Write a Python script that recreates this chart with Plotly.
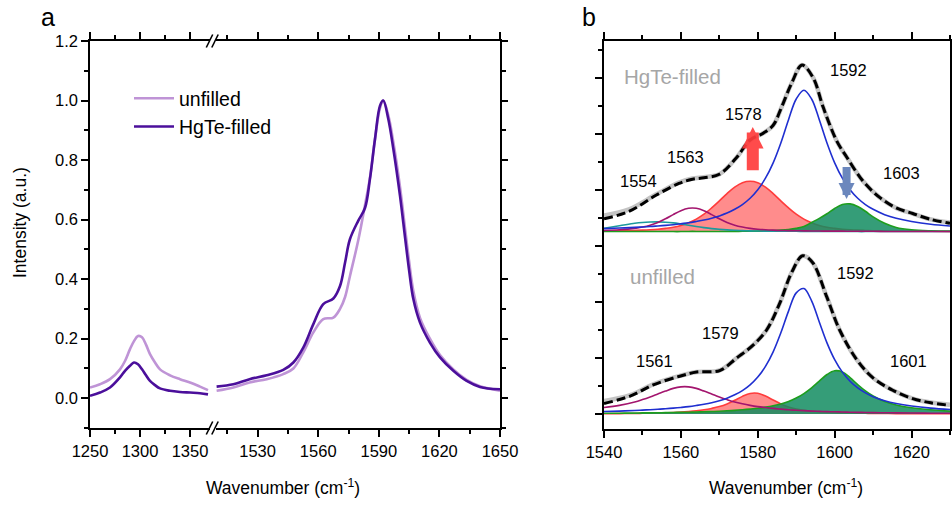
import plotly.graph_objects as go

FONT = "Liberation Sans, Arial, sans-serif"
W, H = 952, 505

# ---------------- panel a: Raman G band, normalised ----------------
wn_low = [1250, 1260, 1270, 1280, 1285, 1290, 1294, 1298, 1302, 1306, 1310, 1315,
          1320, 1330, 1340, 1350, 1360, 1368]
unfilled_low = [0.036, 0.047, 0.064, 0.097, 0.125, 0.165, 0.192, 0.209, 0.205, 0.180,
                0.148, 0.120, 0.097, 0.077, 0.064, 0.053, 0.039, 0.027]
filled_low = [0.008, 0.019, 0.036, 0.070, 0.092, 0.109, 0.120, 0.114, 0.097, 0.077,
              0.058, 0.044, 0.033, 0.025, 0.021, 0.019, 0.017, 0.013]

wn_high = [1509.7, 1518, 1526, 1534.5, 1542.7, 1547.7, 1552.6, 1557.6, 1562.5, 1567.5,
           1570.8, 1573.3, 1575.7, 1579.8, 1583.2, 1585.6, 1588.1, 1590.6, 1592.2,
           1594.7, 1597.2, 1600.5, 1603, 1605, 1607.1, 1610.4, 1615.3, 1620.3, 1626.9,
           1633.5, 1640.1, 1650]
unfilled_high = [0.025, 0.036, 0.053, 0.064, 0.081, 0.100, 0.154, 0.221, 0.266, 0.271,
                 0.300, 0.340, 0.410, 0.530, 0.650, 0.740, 0.870, 0.975, 1.000, 0.950,
                 0.860, 0.710, 0.570, 0.460, 0.360, 0.270, 0.200, 0.145, 0.097, 0.062,
                 0.040, 0.025]
filled_high = [0.039, 0.047, 0.064, 0.077, 0.095, 0.120, 0.170, 0.249, 0.316, 0.335,
               0.377, 0.456, 0.534, 0.596, 0.640, 0.736, 0.870, 0.983, 1.000, 0.938,
               0.837, 0.680, 0.540, 0.430, 0.333, 0.254, 0.187, 0.137, 0.092, 0.058,
               0.038, 0.030]

x_ticks_low = [1250, 1300, 1350]
x_ticks_high = [1530, 1560, 1590, 1620, 1650]
y_ticks_a = [0.0, 0.2, 0.4, 0.6, 0.8, 1.0, 1.2]

# ---------------- panel b: peak fits ----------------
wn_fit = [1540, 1544, 1548, 1550, 1552, 1554, 1556, 1558, 1560, 1562, 1564, 1566, 1568,
          1570, 1572, 1574, 1576, 1578, 1580, 1582, 1584, 1586, 1588, 1590, 1592, 1594,
          1596, 1598, 1600, 1602, 1604, 1606, 1608, 1610, 1613, 1616, 1620, 1625, 1630]

# HgTe-filled components
hg_1592 = [0.022, 0.026, 0.031, 0.034, 0.037, 0.041, 0.045, 0.050, 0.057, 0.064, 0.073,
           0.083, 0.096, 0.113, 0.133, 0.160, 0.194, 0.239, 0.300, 0.382, 0.492, 0.634,
           0.800, 0.948, 1.010, 0.948, 0.800, 0.634, 0.492, 0.382, 0.300, 0.239, 0.194,
           0.160, 0.122, 0.096, 0.073, 0.053, 0.041]
hg_1578 = [0.004, 0.006, 0.009, 0.011, 0.014, 0.018, 0.024, 0.032, 0.045, 0.064, 0.090,
           0.125, 0.170, 0.220, 0.272, 0.318, 0.350, 0.360, 0.350, 0.318, 0.272, 0.220,
           0.170, 0.125, 0.090, 0.064, 0.045, 0.032, 0.024, 0.018, 0.014, 0.011, 0.009,
           0.007, 0.006, 0.004, 0.003, 0.003, 0.002]
hg_1563 = [0.009, 0.014, 0.024, 0.033, 0.046, 0.066, 0.092, 0.122, 0.150, 0.167, 0.167,
           0.150, 0.122, 0.092, 0.066, 0.046, 0.033, 0.024, 0.018, 0.014, 0.011, 0.009,
           0.008, 0.007, 0.006, 0.005, 0.005, 0.004, 0.004, 0.004, 0.003, 0.003, 0.003,
           0.003, 0.002, 0.002, 0.002, 0.002, 0.001]
hg_1554 = [0.025, 0.042, 0.060, 0.066, 0.069, 0.070, 0.068, 0.063, 0.055, 0.046, 0.037,
           0.029, 0.022, 0.017, 0.013, 0.010, 0.008, 0.006, 0.005, 0.004, 0.004, 0.003,
           0.003, 0.003, 0.002, 0.002, 0.002, 0.002, 0.002, 0.002, 0.002, 0.001, 0.001,
           0.001, 0.001, 0.001, 0.001, 0.001, 0.001]
hg_1603 = [0.001, 0.001, 0.001, 0.001, 0.001, 0.001, 0.001, 0.001, 0.001, 0.002, 0.002,
           0.002, 0.002, 0.002, 0.002, 0.002, 0.003, 0.003, 0.004, 0.006, 0.008, 0.011,
           0.016, 0.024, 0.037, 0.066, 0.095, 0.128, 0.166, 0.194, 0.199, 0.180, 0.146,
           0.106, 0.060, 0.030, 0.013, 0.006, 0.004]

# unfilled components
un_1592 = [0.018, 0.021, 0.025, 0.028, 0.031, 0.034, 0.038, 0.042, 0.047, 0.053, 0.061,
           0.070, 0.081, 0.095, 0.113, 0.137, 0.167, 0.208, 0.264, 0.340, 0.444, 0.580,
           0.735, 0.865, 0.896, 0.808, 0.657, 0.508, 0.388, 0.299, 0.234, 0.186, 0.151,
           0.124, 0.095, 0.075, 0.057, 0.042, 0.032]
un_1579 = [0.002, 0.003, 0.004, 0.005, 0.006, 0.007, 0.009, 0.011, 0.014, 0.018, 0.023,
           0.030, 0.040, 0.053, 0.072, 0.098, 0.126, 0.147, 0.148, 0.128, 0.100, 0.072,
           0.050, 0.036, 0.027, 0.020, 0.016, 0.013, 0.010, 0.008, 0.007, 0.006, 0.005,
           0.004, 0.004, 0.003, 0.003, 0.002, 0.002]
un_1561 = [0.046, 0.062, 0.086, 0.103, 0.122, 0.143, 0.164, 0.183, 0.194, 0.194, 0.183,
           0.164, 0.143, 0.122, 0.103, 0.086, 0.073, 0.062, 0.053, 0.046, 0.040, 0.035,
           0.030, 0.027, 0.024, 0.021, 0.019, 0.017, 0.016, 0.014, 0.013, 0.012, 0.011,
           0.010, 0.009, 0.008, 0.007, 0.006, 0.005]
un_1601 = [0.005, 0.006, 0.007, 0.008, 0.008, 0.009, 0.010, 0.011, 0.012, 0.013, 0.014,
           0.016, 0.018, 0.020, 0.023, 0.026, 0.030, 0.035, 0.041, 0.049, 0.059, 0.072,
           0.090, 0.114, 0.146, 0.187, 0.235, 0.282, 0.309, 0.300, 0.260, 0.210, 0.165,
           0.129, 0.090, 0.065, 0.045, 0.030, 0.021]

# measured spectra and cumulative fits
wn_hg_sum = [1540, 1546.5, 1553.5, 1559.5, 1563, 1566, 1570, 1574.5, 1578, 1581.5, 1584,
             1586.2, 1588.8, 1591.5, 1594.4, 1597, 1600.5, 1603.2, 1607.4, 1611.7, 1616,
             1620.3, 1624.7, 1630]
hg_measured = [0.115, 0.160, 0.265, 0.350, 0.380, 0.390, 0.410, 0.530, 0.655, 0.705,
               0.760, 0.890, 1.060, 1.190, 1.100, 0.890, 0.650, 0.530, 0.360, 0.245,
               0.170, 0.130, 0.090, 0.065]
hg_fit = [0.092, 0.145, 0.260, 0.345, 0.375, 0.385, 0.410, 0.530, 0.655, 0.705, 0.760,
          0.890, 1.060, 1.190, 1.100, 0.890, 0.650, 0.530, 0.360, 0.245, 0.170, 0.130,
          0.090, 0.060]
wn_un_sum = [1540, 1546.8, 1552.8, 1559.7, 1564.1, 1570.1, 1574.5, 1578.7, 1582.3,
             1585.7, 1588.8, 1591.7, 1594.3, 1597.9, 1601.3, 1605.7, 1609.9, 1615.1,
             1620.3, 1625, 1630]
un_measured = [0.092, 0.135, 0.212, 0.272, 0.300, 0.312, 0.400, 0.490, 0.600, 0.790,
               1.010, 1.130, 1.080, 0.840, 0.600, 0.390, 0.260, 0.170, 0.110, 0.082,
               0.066]
un_fit = [0.075, 0.128, 0.208, 0.270, 0.300, 0.310, 0.400, 0.490, 0.600, 0.790, 1.010,
          1.130, 1.080, 0.840, 0.600, 0.390, 0.260, 0.170, 0.110, 0.080, 0.062]

hg_peak_labels = ["1554", "1563", "1578", "1592", "1603"]
un_peak_labels = ["1561", "1579", "1592", "1601"]

HG_OFFSET = 1.302  # vertical stacking offset of the HgTe-filled fit

# ---------------- styles ----------------
C_UNF = "#bf94d6"
C_HG = "#4b0f9b"
C_BLUE = "#1f2fd0"
C_RED_LINE = "#ff3c3c"
C_RED_FILL = "rgba(255,70,70,0.62)"
C_MAG = "#a3156e"
C_TEAL = "#1c9a9c"
C_GREEN_LINE = "#1e9e1e"
C_GREEN_FILL = "rgba(18,140,96,0.85)"


def px_x(p):
    return p / W


def px_y(p):
    return 1 - p / H


fig = go.Figure()

# panel a traces
fig.add_trace(go.Scatter(x=wn_low, y=unfilled_low, xaxis="x", yaxis="y", mode="lines",
                         line=dict(color=C_UNF, width=2.6, shape="spline"),
                         name="unfilled", legendgroup="u"))
fig.add_trace(go.Scatter(x=wn_low, y=filled_low, xaxis="x", yaxis="y", mode="lines",
                         line=dict(color=C_HG, width=2.6, shape="spline"),
                         name="HgTe-filled", legendgroup="f"))
fig.add_trace(go.Scatter(x=wn_high, y=unfilled_high, xaxis="x2", yaxis="y2", mode="lines",
                         line=dict(color=C_UNF, width=2.6, shape="spline"),
                         showlegend=False, legendgroup="u"))
fig.add_trace(go.Scatter(x=wn_high, y=filled_high, xaxis="x2", yaxis="y2", mode="lines",
                         line=dict(color=C_HG, width=2.6, shape="spline"),
                         showlegend=False, legendgroup="f"))


def component(y, yaxis, line_color, fill=None):
    return go.Scatter(x=wn_fit, y=y, xaxis="x3", yaxis=yaxis, mode="lines",
                      line=dict(color=line_color, width=1.6, shape="spline"),
                      fill="tozeroy" if fill else None, fillcolor=fill,
                      showlegend=False, hoverinfo="skip")


# unfilled (lower) fit, drawn on y3
fig.add_trace(component(un_1579, "y3", C_RED_LINE, C_RED_FILL))
fig.add_trace(component(un_1601, "y3", C_GREEN_LINE, C_GREEN_FILL))
fig.add_trace(component(un_1561, "y3", C_MAG))
fig.add_trace(component(un_1592, "y3", C_BLUE))
fig.add_trace(go.Scatter(x=wn_un_sum, y=un_measured, xaxis="x3", yaxis="y3", mode="lines",
                         line=dict(color="#c4c4c4", width=4.5, shape="spline"),
                         showlegend=False))
fig.add_trace(go.Scatter(x=wn_un_sum, y=un_fit, xaxis="x3", yaxis="y3", mode="lines",
                         line=dict(color="black", width=3, dash="9px,4px", shape="spline"),
                         showlegend=False))

# HgTe-filled (upper) fit, drawn on y4 (shifted copy of y3)
fig.add_trace(component(hg_1578, "y4", C_RED_LINE, C_RED_FILL))
fig.add_trace(component(hg_1603, "y4", C_GREEN_LINE, C_GREEN_FILL))
fig.add_trace(component(hg_1554, "y4", C_TEAL))
fig.add_trace(component(hg_1563, "y4", C_MAG))
fig.add_trace(component(hg_1592, "y4", C_BLUE))
fig.add_trace(go.Scatter(x=wn_hg_sum, y=hg_measured, xaxis="x3", yaxis="y4", mode="lines",
                         line=dict(color="#c4c4c4", width=4.5, shape="spline"),
                         showlegend=False))
fig.add_trace(go.Scatter(x=wn_hg_sum, y=hg_fit, xaxis="x3", yaxis="y4", mode="lines",
                         line=dict(color="black", width=3, dash="9px,4px", shape="spline"),
                         showlegend=False))

axis_common = dict(showgrid=False, zeroline=False, showline=True, linecolor="black",
                   linewidth=1.5, ticks="outside", tickcolor="black", tickwidth=1.5,
                   automargin=False,
                   tickfont=dict(family=FONT, size=16.5, color="black"))

ya_dom = [px_y(428), px_y(41)]
yb_dom = [px_y(429), px_y(41)]

fig.update_layout(
    width=W, height=H, margin=dict(l=0, r=0, t=0, b=0, autoexpand=False),
    paper_bgcolor="white", plot_bgcolor="white",
    font=dict(family=FONT, color="black"),
    xaxis=dict(axis_common, domain=[px_x(90), px_x(210)], range=[1250, 1370],
               tickvals=x_ticks_low, ticklen=7, mirror="ticks", anchor="y",
               minor=dict(tickvals=[1275, 1325], ticks="outside", ticklen=4,
                          tickcolor="black", tickwidth=1.5)),
    xaxis2=dict(axis_common, domain=[px_x(216), px_x(500)], range=[1509.4, 1650],
                tickvals=x_ticks_high, ticklen=7, mirror="ticks", anchor="y2",
                minor=dict(tickvals=[1515, 1545, 1575, 1605, 1635], ticks="outside",
                           ticklen=4, tickcolor="black", tickwidth=1.5)),
    yaxis=dict(axis_common, domain=ya_dom, range=[-0.1, 1.2], anchor="x",
               tickvals=y_ticks_a, tickformat=".1f", ticklen=7,
               minor=dict(dtick=0.1, tick0=0, ticks="outside", ticklen=4,
                          tickcolor="black", tickwidth=1.5)),
    yaxis2=dict(axis_common, domain=ya_dom, range=[-0.1, 1.2], anchor="x2", side="right",
                showticklabels=False, tickvals=y_ticks_a, ticklen=6,
                minor=dict(dtick=0.1, tick0=0, ticks="outside", ticklen=4,
                           tickcolor="black", tickwidth=1.5)),
    xaxis3=dict(axis_common, domain=[px_x(604), px_x(950)], range=[1540, 1630],
                tick0=1540, dtick=20, ticklen=7, mirror="ticks", anchor="y3",
                minor=dict(dtick=10, tick0=1540, ticks="outside", ticklen=4,
                           tickcolor="black", tickwidth=1.5)),
    yaxis3=dict(axis_common, domain=yb_dom, range=[-0.107, 2.664], anchor="x3",
                showticklabels=False, tick0=0, dtick=0.4, ticklen=7, mirror="ticks",
                minor=dict(dtick=0.2, tick0=0, ticks="outside", ticklen=4,
                           tickcolor="black", tickwidth=1.5)),
    yaxis4=dict(domain=yb_dom, range=[-0.107 - HG_OFFSET, 2.664 - HG_OFFSET],
                overlaying="y3", anchor="x3", visible=False, automargin=False),
    legend=dict(x=px_x(129), y=px_y(79), xanchor="left", yanchor="top",
                bgcolor="rgba(0,0,0,0)", font=dict(family=FONT, size=19.5, color="black"),
                tracegroupgap=0, itemwidth=40),
)

# axis break marks "//" on the top and bottom edges of panel a
for cy in (41, 428):
    for cx in (209.5, 215):
        fig.add_shape(type="line", xref="paper", yref="paper",
                      x0=px_x(cx - 3.2), y0=px_y(cy + 6.5), x1=px_x(cx + 3.2),
                      y1=px_y(cy - 6.5), line=dict(color="black", width=1.6))

ann = []
ann.append(dict(text="a", x=px_x(39), y=px_y(1), xanchor="left", yanchor="top",
                font=dict(size=25)))
ann.append(dict(text="b", x=px_x(580), y=px_y(1), xanchor="left", yanchor="top",
                font=dict(size=25)))
ann.append(dict(text="Intensity (a.u.)", x=px_x(20), y=px_y(223), textangle=-90,
                xanchor="center", yanchor="middle", font=dict(size=17.5)))
ann.append(dict(text="Wavenumber (cm<sup>-1</sup>)", x=px_x(283), y=px_y(487),
                xanchor="center", yanchor="middle", font=dict(size=17.5)))
ann.append(dict(text="Wavenumber (cm<sup>-1</sup>)", x=px_x(786), y=px_y(487),
                xanchor="center", yanchor="middle", font=dict(size=17.5)))
for a in ann:
    a.update(xref="paper", yref="paper", showarrow=False)
    a["font"] = dict(family=FONT, color="black", size=a["font"]["size"])

# sample names and peak positions in panel b (lower-fit data coordinates)
label_pos_hg = [(1549.1, 1.664), (1561.3, 1.836), (1576.4, 2.143), (1603.6, 2.457),
                (1617.4, 1.721)]
label_pos_un = [(1553.2, 0.379), (1570.4, 0.579), (1605.5, 1.007), (1619.2, 0.379)]
for txt, (lx, ly) in zip(hg_peak_labels, label_pos_hg):
    ann.append(dict(text=txt, x=lx, y=ly, xref="x3", yref="y3", showarrow=False,
                    xanchor="center", yanchor="middle",
                    font=dict(family=FONT, size=16.5, color="black")))
for txt, (lx, ly) in zip(un_peak_labels, label_pos_un):
    ann.append(dict(text=txt, x=lx, y=ly, xref="x3", yref="y3", showarrow=False,
                    xanchor="center", yanchor="middle",
                    font=dict(family=FONT, size=16.5, color="black")))
ann.append(dict(text="HgTe-filled", x=1544.6, y=2.414, xref="x3", yref="y3",
                xanchor="left", yanchor="middle", showarrow=False,
                font=dict(family=FONT, size=20.5, color="#a6a6a6")))
ann.append(dict(text="unfilled", x=1546.2, y=0.979, xref="x3", yref="y3",
                xanchor="left", yanchor="middle", showarrow=False,
                font=dict(family=FONT, size=20.5, color="#a6a6a6")))

# intensity change arrows
ann.append(dict(x=1578.7, y=2.05, ax=1578.7, ay=1.73, xref="x3", yref="y3",
                axref="x3", ayref="y3", showarrow=True, arrowhead=2, arrowsize=0.36,
                arrowwidth=12, arrowcolor="rgba(255,60,60,0.92)", text=""))
ann.append(dict(x=1603.1, y=1.535, ax=1603.1, ay=1.775, xref="x3", yref="y3",
                axref="x3", ayref="y3", showarrow=True, arrowhead=2, arrowsize=0.4,
                arrowwidth=8, arrowcolor="#6b87bd", text=""))

fig.update_layout(annotations=ann)
fig.write_html("out.html")
